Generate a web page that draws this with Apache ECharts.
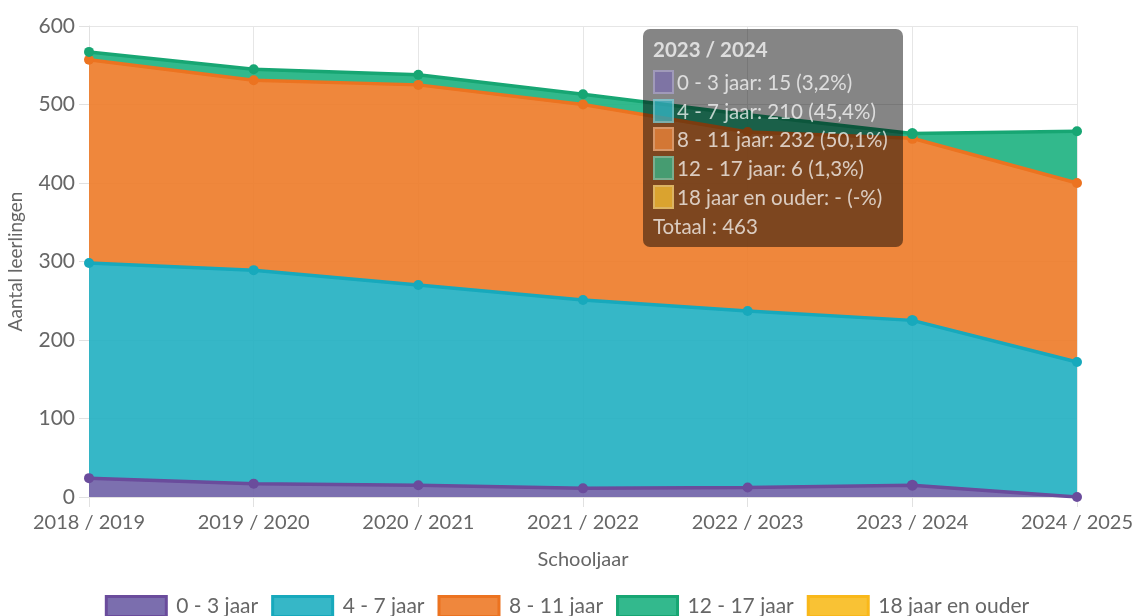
<!DOCTYPE html>
<html>
<head>
<meta charset="utf-8">
<script src="https://cdn.jsdelivr.net/npm/echarts@6/dist/echarts.min.js"></script>
<style>
  html, body { margin: 0; padding: 0; background: #fff; }
  #chart { width: 1134px; height: 616px; }
</style>
</head>
<body>
<div id="chart"></div>
<script>
// schooljaren
var schooljaren = ['2018 / 2019', '2019 / 2020', '2020 / 2021', '2021 / 2022', '2022 / 2023', '2023 / 2024', '2024 / 2025'];

// aantallen per leeftijdsgroep
var jaar0tot3 = [24, 17, 15, 11, 12, 15, 0];
var jaar4tot7 = [274, 272, 255, 240, 225, 210, 172];
var jaar8tot11 = [259, 242, 255, 249, 228, 232, 228];
var jaar12tot17 = [10, 14, 13, 13, 22, 6, 66];
var jaar18plus = [null, null, null, null, null, null, null];

var yTicks = [0, 100, 200, 300, 400, 500, 600];

var groepen = [
    { name: '0 - 3 jaar', data: jaar0tot3, fill: '#6e60a6', line: '#6a4c9c', legend: '#7b6eae' },
    { name: '4 - 7 jaar', data: jaar4tot7, fill: '#20afc1', line: '#17a9bc', legend: '#36b7c7' },
    { name: '8 - 11 jaar', data: jaar8tot11, fill: '#ed7a27', line: '#ec7320', legend: '#ef873d' },
    { name: '12 - 17 jaar', data: jaar12tot17, fill: '#1cb180', line: '#17a673', legend: '#33b98d' },
    { name: '18 jaar en ouder', data: jaar18plus, fill: '#f9c234', line: '#f9b81a', legend: '#f9c234' }
];

var font = 'Lato, "Open Sans", sans-serif';

var myChart = echarts.init(document.getElementById('chart'));

var series = groepen.map(function (g) {
    return {
        name: g.name,
        type: 'line',
        stack: 'totaal',
        data: g.data,
        symbol: 'circle',
        symbolSize: 10,
        showAllSymbol: true,
        animation: false,
        color: g.line,
        lineStyle: { color: g.line, width: 3.5 },
        itemStyle: { color: g.line },
        areaStyle: { color: g.fill, opacity: 0.9 },
        emphasis: { disabled: true }
    };
});

var option = {
    animation: false,
    textStyle: { fontFamily: font },
    grid: { left: 89, right: 57, top: 26, bottom: 119, outerBoundsMode: 'none' },
    legend: {
        top: 590,
        left: 'center',
        itemWidth: 60,
        itemHeight: 20,
        itemGap: 13,
        icon: 'rect',
        textStyle: { color: '#666', fontSize: 21, fontFamily: font, padding: [0, 0, 0, 5] },
        data: groepen.map(function (g) {
            return { name: g.name, itemStyle: { color: g.legend, borderColor: g.line, borderWidth: 3 } };
        })
    },
    tooltip: {
        trigger: 'axis',
        alwaysShowContent: true,
        transitionDuration: 0,
        axisPointer: { type: 'none' },
        backgroundColor: 'rgba(0,0,0,0.48)',
        borderWidth: 0,
        padding: [6, 10, 6, 10],
        extraCssText: 'border-radius:7px; box-shadow:none; width:240px;',
        position: function () { return [643, 29]; },
        formatter: function (params) {
            var idx = params[0].dataIndex;
            var totaal = 0;
            groepen.forEach(function (g) { totaal += g.data[idx] || 0; });
            var html = '<div style="font-family:' + font.replace(/"/g, "'") + ';color:rgba(255,255,255,0.72);font-size:20.5px;line-height:28.8px;">';
            html += '<div style="font-weight:bold;margin-bottom:4px;">' + schooljaren[idx] + '</div>';
            groepen.forEach(function (g) {
                var v = g.data[idx];
                var txt = (v == null) ? '- (-%)' : v + ' (' + (v / totaal * 100).toFixed(1).replace('.', ',') + '%)';
                html += '<div style="white-space:nowrap;"><span style="display:inline-block;width:17px;height:20px;vertical-align:-4px;margin-right:3px;background:' + g.legend + ';opacity:0.75;border:2px solid rgba(255,255,255,0.35);"></span>' + g.name + ': ' + txt + '</div>';
            });
            html += '<div>Totaal : ' + totaal + '</div></div>';
            return html;
        }
    },
    xAxis: {
        type: 'category',
        boundaryGap: false,
        data: schooljaren,
        name: 'Schooljaar',
        nameLocation: 'middle',
        nameGap: 53,
        nameTextStyle: { color: '#666', fontSize: 20, fontFamily: font },
        axisLine: { show: true, lineStyle: { color: '#e1e1e1' } },
        axisTick: { show: true, length: 10, alignWithLabel: true, lineStyle: { color: '#e1e1e1' } },
        axisLabel: { color: '#666', fontSize: 20, margin: 16, fontFamily: font },
        splitLine: { show: true, lineStyle: { color: '#e6e6e6' } }
    },
    yAxis: {
        type: 'value',
        min: yTicks[0],
        max: yTicks[yTicks.length - 1],
        interval: 100,
        name: 'Aantal leerlingen',
        nameLocation: 'middle',
        nameGap: 64,
        nameTextStyle: { color: '#666', fontSize: 19, fontFamily: font },
        axisLine: { show: true, lineStyle: { color: '#e1e1e1' } },
        axisTick: { show: true, length: 10, lineStyle: { color: '#e1e1e1' } },
        axisLabel: { color: '#666', fontSize: 21, margin: 14, fontFamily: font },
        splitLine: { show: true, lineStyle: { color: '#e6e6e6' } }
    },
    series: series
};

myChart.setOption(option);

// tooltip zoals op de afbeelding: schooljaar 2023 / 2024
myChart.dispatchAction({ type: 'showTip', seriesIndex: 0, dataIndex: 5 });
</script>
</body>
</html>
